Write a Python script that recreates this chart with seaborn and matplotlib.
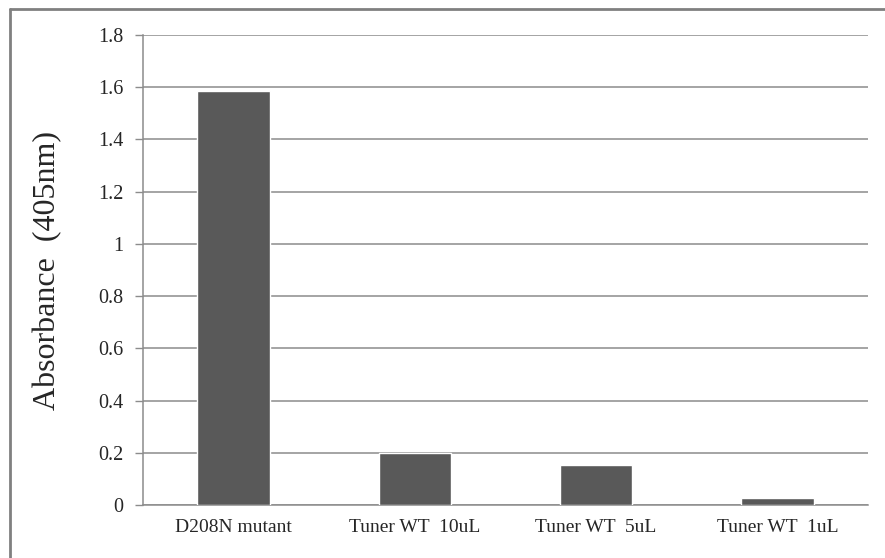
import numpy as np
import pandas as pd
import matplotlib
matplotlib.use("Agg")
import matplotlib.pyplot as plt
import seaborn as sns
from matplotlib.lines import Line2D

# Data
samples = ["D208N mutant", "Tuner WT  10uL", "Tuner WT  5uL", "Tuner WT  1uL"]
absorbance = [1.585, 0.2, 0.155, 0.025]
y_ticks = [0, 0.2, 0.4, 0.6, 0.8, 1, 1.2, 1.4, 1.6, 1.8]
y_tick_labels = ["0", "0.2", "0.4", "0.6", "0.8", "1", "1.2", "1.4", "1.6", "1.8"]

df = pd.DataFrame({"Sample": samples, "Absorbance": absorbance})

sns.set_style("white")
plt.rcParams["font.family"] = ["Liberation Serif", "DejaVu Serif"]

fig = plt.figure(figsize=(8.85, 5.58), dpi=100)
ax = fig.add_axes([143 / 885, 1 - 505 / 558, (868 - 143) / 885, (505 - 35) / 558])

sns.barplot(data=df, x="Sample", y="Absorbance", color="#595959", width=0.4,
            saturation=1, ax=ax, zorder=3)

ax.set_ylim(0, 1.8)
ax.set_xlim(-0.5, 3.5)
ax.set_yticks(y_ticks)
ax.set_yticklabels(y_tick_labels, fontsize=14.5)
ax.yaxis.grid(True, color="#8c8c8c", linewidth=1.1, zorder=0)
ax.set_axisbelow(True)

# category labels without ticks, boundary ticks as minor ticks
ax.set_xticks(range(len(samples)))
ax.set_xticklabels(samples, fontsize=14)
ax.set_xticks(np.arange(-0.5, len(samples), 1), minor=True)
ax.tick_params(axis="x", which="major", length=0, pad=10)
ax.tick_params(axis="x", which="minor", length=6, color="#8c8c8c", width=1, direction="out")
ax.tick_params(axis="y", length=6, color="#8c8c8c", width=1, direction="out", left=True, pad=8)

ax.set_xlabel("")
ax.set_ylabel("Absorbance  (405nm)", fontsize=23)
ax.yaxis.set_label_coords(-0.112, 0.5)

for side in ["top", "right"]:
    ax.spines[side].set_visible(False)
ax.spines["left"].set_color("#8c8c8c")
ax.spines["bottom"].set_color("#8c8c8c")
ax.spines["left"].set_linewidth(1.1)
ax.spines["bottom"].set_linewidth(1.1)

# chart frame (top and left edges visible in the crop)
fig.add_artist(Line2D([10 / 885, 1], [1 - 8.5 / 558, 1 - 8.5 / 558],
                      transform=fig.transFigure, color="#808080", linewidth=2))
fig.add_artist(Line2D([10 / 885, 10 / 885], [0, 1 - 8.5 / 558],
                      transform=fig.transFigure, color="#808080", linewidth=2))

fig.savefig("out.png", dpi=100)
